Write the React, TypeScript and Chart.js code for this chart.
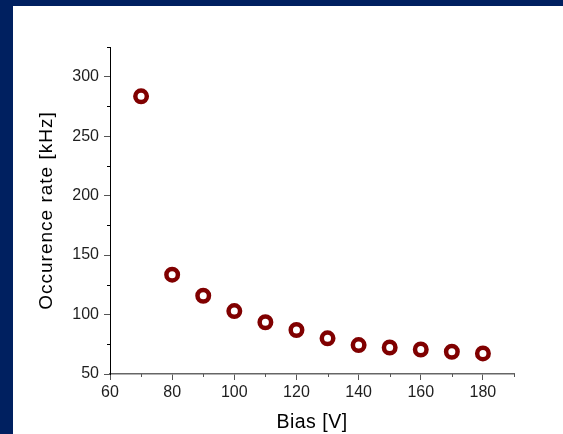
import { useEffect, useRef } from "react";
import { Chart, registerables } from "chart.js";
Chart.register(...registerables);

const biasV = [70, 80, 90, 100, 110, 120, 130, 140, 150, 160, 170, 180];
const rateKHz = [283.5, 133.5, 115.8, 102.9, 93.5, 87.0, 80.0, 74.3, 72.3, 70.6, 68.7, 67.3];
const xMajorTicks = [60, 80, 100, 120, 140, 160, 180];
const xMinorTicks = [70, 90, 110, 130, 150, 170, 190];
const yMajorTicks = [50, 100, 150, 200, 250, 300];
const yMinorTicks = [75, 125, 175, 225, 275, 325];
const xTitle = "Bias [V]";
const yTitle = "Occurence rate [kHz]";

const NAVY = "#002060";

const framePlugin = {
  id: "frame",
  beforeDraw(chart: any) {
    const { ctx, width, height } = chart;
    ctx.save();
    ctx.fillStyle = NAVY;
    ctx.fillRect(0, 0, width, height);
    ctx.fillStyle = "#ffffff";
    ctx.fillRect(13, 6, width - 13, height - 6);
    ctx.restore();
    // slight letter spacing for axis titles
    Object.values(chart.scales).forEach((s: any) => {
      if (!s.__wrapped) {
        const orig = s.drawTitle.bind(s);
        const spacing = s.axis === "y" ? "1px" : "0.5px";
        s.drawTitle = (...args: any[]) => {
          const c = s.ctx;
          const prev = c.letterSpacing;
          c.letterSpacing = spacing;
          orig(...args);
          c.letterSpacing = prev || "0px";
        };
        s.__wrapped = true;
      }
    });
  },
  afterDraw(chart: any) {
    const { ctx } = chart;
    const xs = chart.scales.x;
    const ys = chart.scales.y;
    ctx.save();
    ctx.lineWidth = 1;
    ctx.strokeStyle = "#555";
    xMinorTicks.forEach((v) => {
      const px = Math.round(xs.getPixelForValue(v)) + 0.5;
      ctx.beginPath();
      ctx.moveTo(px, xs.top);
      ctx.lineTo(px, xs.top + 3);
      ctx.stroke();
    });
    ctx.strokeStyle = "#000";
    yMinorTicks.forEach((v) => {
      const py = Math.round(ys.getPixelForValue(v)) + 0.5;
      ctx.beginPath();
      ctx.moveTo(ys.right - 3, py);
      ctx.lineTo(ys.right, py);
      ctx.stroke();
    });
    ctx.restore();
  },
};

export default function App() {
  const ref = useRef<HTMLCanvasElement | null>(null);
  useEffect(() => {
    document.body.style.margin = "0";
    const canvas = ref.current!;
    const chart = new Chart(canvas, {
      type: "scatter",
      data: {
        datasets: [
          {
            data: biasV.map((x, i) => ({ x, y: rateKHz[i] })),
            pointStyle: "circle",
            pointRadius: 5.75,
            pointBorderWidth: 4.5,
            borderColor: "#800000",
            backgroundColor: "#ffffff",
            pointBackgroundColor: "#ffffff",
            pointBorderColor: "#800000",
          },
        ],
      },
      options: {
        responsive: false,
        animation: false,
        devicePixelRatio: 1,
        events: [],
        layout: { autoPadding: false, padding: { left: 0, top: 47, right: 49, bottom: 0 } },
        plugins: { legend: { display: false }, tooltip: { enabled: false }, title: { display: false } },
        scales: {
          x: {
            type: "linear",
            min: 60,
            max: 190,
            afterFit: (s: any) => {
              s.height = 60;
            },
            afterBuildTicks: (s: any) => {
              s.ticks = xMajorTicks.map((v) => ({ value: v }));
            },
            grid: { drawOnChartArea: false, drawTicks: true, tickLength: 6, tickColor: "#555", tickWidth: 1 },
            border: { color: "#666", width: 1.5 },
            ticks: {
              autoSkip: false,
              maxRotation: 0,
              padding: 3,
              color: "#1e1e1e",
              font: { family: "Arial, 'Liberation Sans', sans-serif", size: 16 },
            },
            title: {
              display: true,
              text: xTitle,
              color: "#000",
              font: { family: "Arial, 'Liberation Sans', sans-serif", size: 19.5 },
              padding: { top: 0, bottom: 0 },
            },
          },
          y: {
            type: "linear",
            min: 50,
            max: 325,
            afterFit: (s: any) => {
              s.width = 110;
            },
            afterBuildTicks: (s: any) => {
              s.ticks = yMajorTicks.map((v) => ({ value: v }));
            },
            grid: { drawOnChartArea: false, drawTicks: true, tickLength: 6, tickColor: "#555", tickWidth: 1 },
            border: { color: "#000", width: 1 },
            ticks: {
              autoSkip: false,
              padding: 5,
              color: "#1e1e1e",
              font: { family: "Arial, 'Liberation Sans', sans-serif", size: 16 },
            },
            title: {
              display: true,
              text: yTitle,
              color: "#000",
              font: { family: "Arial, 'Liberation Sans', sans-serif", size: 19 },
              padding: { top: 35, bottom: 0 },
            },
          },
        },
      },
      plugins: [framePlugin],
    });
    return () => chart.destroy();
  }, []);
  return <canvas ref={ref} width={563} height={434} style={{ display: "block", width: 563, height: 434 }} />;
}
